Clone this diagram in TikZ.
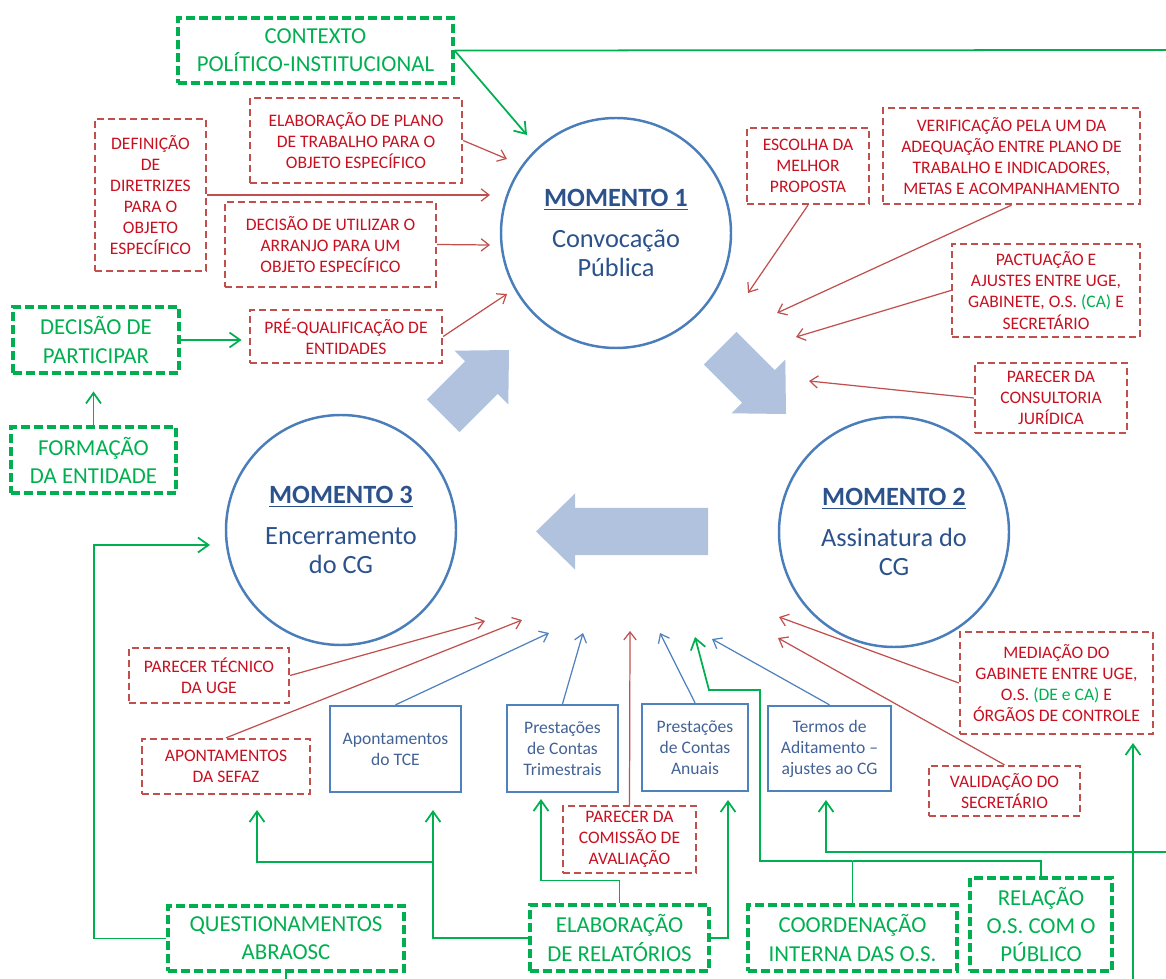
\documentclass[tikz,border=0pt]{standalone}
\usepackage{fontspec}
\setmainfont{Carlito}
\usetikzlibrary{arrows.meta}
\definecolor{circblue}{RGB}{74,126,187}
\definecolor{momtext}{RGB}{44,82,140}
\definecolor{boxblue}{RGB}{79,129,189}
\definecolor{boxtext}{RGB}{66,98,150}
\definecolor{redline}{RGB}{192,80,77}
\definecolor{redtext}{RGB}{200,16,32}
\definecolor{grn}{RGB}{0,176,80}
\definecolor{arrfill}{RGB}{177,194,222}
\tikzset{
  momento/.style={circle, draw=circblue, line width=1.4pt, minimum size=230*0.02cm,
    inner sep=0pt, align=center, text=momtext, font=\fontsize{15}{16.5}\selectfont},
  redbox/.style={draw=redline, dash pattern=on 4pt off 2.3pt, line width=1.3pt,
    text=redtext, align=center, inner sep=0pt, font=\fontsize{10}{12}\selectfont},
  greenbox/.style={draw=grn, dash pattern=on 5pt off 2.4pt, line width=1.8pt,
    text=grn, align=center, inner sep=0pt, font=\fontsize{13}{16}\selectfont},
  bluebox/.style={draw=boxblue, line width=1.3pt, text=boxtext, align=center,
    inner sep=0pt, font=\fontsize{10}{12}\selectfont},
  wh/.style 2 args={minimum width=#1*0.02cm, minimum height=#2*0.02cm},
  redarr/.style={draw=redline, line width=0.7pt, -{Straight Barb[length=4.5pt,width=7pt]}},
  bluearr/.style={draw=boxblue, line width=0.7pt, -{Straight Barb[length=4.5pt,width=7pt]}},
  greenarr/.style={draw=grn, line width=1pt, -{Straight Barb[length=6pt,width=8.5pt]}},
  greenln/.style={draw=grn, line width=1pt},
  bigarrow/.style={fill=arrfill}
}

\begin{document}
\begin{tikzpicture}[x=0.02cm, y=-0.02cm]
  \useasboundingbox (0,0) rectangle (1166,979);

  % the three moments
  \node[momento] (m1) at (616,233) {{\bfseries\underline{MOMENTO 1}}\\[7pt]Convocação\\Pública};
  \node[momento] (m2) at (894,532) {{\bfseries\underline{MOMENTO 2}}\\[7pt]Assinatura do\\CG};
  \node[momento] (m3) at (341,530) {{\bfseries\underline{MOMENTO 3}}\\[7pt]Encerramento\\do CG};

  % block arrows between moments
  \begin{scope}[shift={(509,350)}, rotate=45]
    \fill[bigarrow] (0,0) -- (-39,38) -- (-39,23) -- (-93,23) -- (-93,-23) -- (-39,-23) -- (-39,-38) -- cycle;
  \end{scope}
  \begin{scope}[shift={(786,414)}, rotate=-45]
    \fill[bigarrow] (0,0) -- (-39,38) -- (-39,23) -- (-93,23) -- (-93,-23) -- (-39,-23) -- (-39,-38) -- cycle;
  \end{scope}
  \begin{scope}[shift={(536,531.5)}, rotate=180]
    \fill[bigarrow] (0,0) -- (-39,38) -- (-39,23.5) -- (-172,23.5) -- (-172,-23.5) -- (-39,-23.5) -- (-39,-38) -- cycle;
  \end{scope}

  % green context boxes
  \node[greenbox, wh={275}{65}] (contexto) at (315.5,50.5) {CONTEXTO\\POLÍTICO-INSTITUCIONAL};
  \node[greenbox, wh={166}{66}] (particip) at (96,340) {DECISÃO DE\\PARTICIPAR};
  \node[greenbox, wh={165}{66}] (formac) at (93.5,460) {FORMAÇÃO\\DA ENTIDADE};
  \node[greenbox, wh={236}{65}] (questio) at (286,938.5) {QUESTIONAMENTOS\\ABRAOSC};
  \node[greenbox, wh={179}{66}] (relator) at (619.5,938) {ELABORAÇÃO\\DE RELATÓRIOS};
  \node[greenbox, wh={209}{66}] (coorden) at (852.5,938) {COORDENAÇÃO\\INTERNA DAS O.S.};
  \node[greenbox, wh={142}{93}] (relacao) at (1041,924.5) {RELAÇÃO\\O.S. COM O\\PÚBLICO};

  % red boxes
  \node[redbox, wh={212}{85}] (elab) at (356,140.5) {ELABORAÇÃO DE PLANO\\DE TRABALHO PARA O\\OBJETO ESPECÍFICO};
  \node[redbox, wh={111}{152}] (defin) at (150.5,195) {DEFINIÇÃO\\DE\\DIRETRIZES\\PARA O\\OBJETO\\ESPECÍFICO};
  \node[redbox, wh={211}{85}] (decis) at (330.5,244.5) {DECISÃO DE UTILIZAR O\\ARRANJO PARA UM\\OBJETO ESPECÍFICO};
  \node[redbox, wh={192}{53}] (prequal) at (346,336.5) {PRÉ-QUALIFICAÇÃO DE\\ENTIDADES};
  \node[redbox, wh={122}{76}] (escolha) at (808,166) {ESCOLHA DA\\MELHOR\\PROPOSTA};
  \node[redbox, wh={257}{96}] (verif) at (1011.5,156) {VERIFICAÇÃO PELA UM DA\\ADEQUAÇÃO ENTRE PLANO DE\\TRABALHO E INDICADORES,\\METAS E ACOMPANHAMENTO};
  \node[redbox, wh={188}{93}] (pactu) at (1046,290.5) {PACTUAÇÃO E\\AJUSTES ENTRE UGE,\\GABINETE, O.S. {\color{grn}(CA)} E\\SECRETÁRIO};
  \node[redbox, wh={152}{70}] (consult) at (1051,398) {PARECER DA\\CONSULTORIA\\JURÍDICA};
  \node[redbox, wh={193}{102}] (mediac) at (1056.5,683) {MEDIAÇÃO DO\\GABINETE ENTRE UGE,\\O.S. {\color{grn}(DE e CA)} E\\ÓRGÃOS DE CONTROLE};
  \node[redbox, wh={151}{50}] (valid) at (1004.5,791) {VALIDAÇÃO DO\\SECRETÁRIO};
  \node[redbox, wh={133}{67}] (comiss) at (629.5,839.5) {PARECER DA\\COMISSÃO DE\\AVALIAÇÃO};
  \node[redbox, wh={160}{55}] (tecnico) at (209,675.5) {PARECER TÉCNICO\\DA UGE};
  \node[redbox, wh={168}{55}] (sefaz) at (226,766.5) {APONTAMENTOS\\DA SEFAZ};

  % blue boxes
  \node[bluebox, wh={131}{86}] (tce) at (395.5,749) {Apontamentos\\do TCE};
  \node[bluebox, wh={111}{87}] (trimes) at (562.5,748.5) {Prestações\\de Contas\\Trimestrais};
  \node[bluebox, wh={106}{87}] (anuais) at (695,747.5) {Prestações\\de Contas\\Anuais};
  \node[bluebox, wh={123}{85}] (termos) at (829.5,748.5) {Termos de\\Aditamento –\\ajustes ao CG};

  % free ends
  \coordinate (m1ctx) at (527,135);
  \coordinate (m1elab) at (507,159);
  \coordinate (m1defin) at (490,195);
  \coordinate (m1decis) at (490,245);
  \coordinate (m1prequal) at (507,294);
  \coordinate (m2escolha) at (748,293);
  \coordinate (m2verif) at (777,313);
  \coordinate (m2pactu) at (796,337);
  \coordinate (m2consult) at (809,381);
  \coordinate (m3mediac) at (779,617);
  \coordinate (m3valid) at (778,638);
  \coordinate (m3termos) at (712,639);
  \coordinate (m3coord) at (695,637);
  \coordinate (m3anuais) at (660,633);
  \coordinate (m3comiss) at (630,631);
  \coordinate (m3trimes) at (583,633);
  \coordinate (m3tce) at (549,633);
  \coordinate (m3sefaz) at (522,620);
  \coordinate (m3tecnico) at (485,621);
  \coordinate (m3quest) at (210,545);
  \coordinate (questturn) at (94,545);
  \coordinate (ctxend) at (1166,50);
  \coordinate (questend) at (286,979);
  \coordinate (termsrc) at (1166,852);
  \coordinate (medsrc) at (1133,979);
  \coordinate (tcein) at (433,810);
  \coordinate (relsplit) at (433,862);
  \coordinate (sefazin) at (257,810);
  \coordinate (trimesin) at (541,799);
  \coordinate (anuaisin) at (728,800);
  \coordinate (coordsplit) at (852.5,861);
  \coordinate (coordturn) at (760,690);
  \coordinate (coordbend) at (709,690);
  \coordinate (termosin) at (826,800);
  \coordinate (medin) at (1133,743);

  % red connectors
  \draw[redarr] (elab.east) -- (m1elab);
  \draw[redarr] (defin.east) -- (m1defin);
  \draw[redarr] (decis.east) -- (m1decis);
  \draw[redarr] (prequal.east) -- (m1prequal);
  \draw[redarr] (escolha.south) -- (m2escolha);
  \draw[redarr] (verif.south) -- (m2verif);
  \draw[redarr] (pactu.west) -- (m2pactu);
  \draw[redarr] (consult.west) -- (m2consult);
  \draw[redarr] (mediac.west) -- (m3mediac);
  \draw[redarr] (valid.north) -- (m3valid);
  \draw[redarr] (comiss.north) -- (m3comiss);
  \draw[redarr] (tecnico.east) -- (m3tecnico);
  \draw[redarr] (sefaz.north) -- (m3sefaz);

  % blue connectors
  \draw[bluearr] (tce.north) -- (m3tce);
  \draw[bluearr] (trimes.north) -- (m3trimes);
  \draw[bluearr] (anuais.north) -- (m3anuais);
  \draw[bluearr] (termos.north) -- (m3termos);

  % green connectors
  \draw[greenln] (contexto.east) -- (ctxend);
  \draw[greenarr] (contexto.east) -- (m1ctx);
  \draw[greenarr] (particip.east) -- ++(61,0);
  \draw[greenarr] (formac.north) -- ++(0,-34);
  \draw[greenarr] (questio.west) -| (questturn) -- (m3quest);
  \draw[greenln] (questio.south) -- (questend);
  \draw[greenarr] (relator.west) -| (tcein);
  \draw[greenarr] (relsplit) -| (sefazin);
  \draw[greenarr] (relator.north) -- ++(0,-23) -| (trimesin);
  \draw[greenarr] (relator.east) -| (anuaisin);
  \draw[greenln] (coorden.north) -- (coordsplit);
  \draw[greenln] (coordsplit) -| (relacao.north);
  \draw[greenarr] (coordsplit) -| (coordturn) -- (coordbend) -- (m3coord);
  \draw[greenarr] (termsrc) -| (termosin);
  \draw[greenarr] (medsrc) -- (medin);

\end{tikzpicture}
\end{document}
